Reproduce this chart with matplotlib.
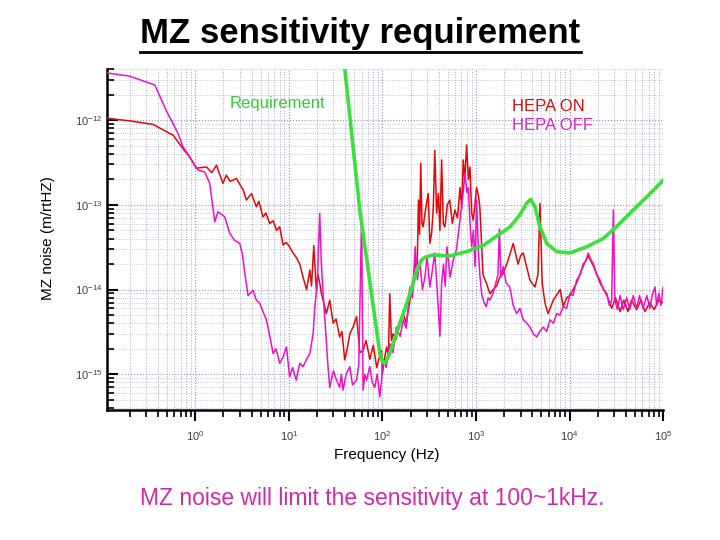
import matplotlib
matplotlib.use("Agg")
import matplotlib.pyplot as plt
from matplotlib.lines import Line2D
from matplotlib.ticker import NullFormatter

plt.rcParams['font.family'] = ['Liberation Sans', 'DejaVu Sans']

# HEPA ON (red)
freq_on = [0.115, 0.2, 0.354, 0.58, 0.74, 0.87, 1.03, 1.15, 1.32, 1.5, 1.69, 1.85, 1.98, 2.15,
           2.35, 2.54, 2.75, 2.99, 3.25, 3.53, 4.0, 4.5, 4.8, 5.3, 5.7, 6.25, 6.8, 7.4, 8.0, 8.7,
           9.4, 10.2, 11.1, 12.0, 13.1, 14.2, 15.5, 16.8, 17.5, 18.5, 19.7, 20.5, 21.4, 22.3,
           23.3, 25.2, 27.4, 29.8, 32, 35, 37, 39.6, 41.3, 44.9, 48.6, 53, 57.5, 62, 67, 73.5,
           80, 87, 93, 98, 100, 105, 111, 116, 120, 125, 130, 141, 150, 167, 180, 197, 210, 224,
           235, 243, 250, 257, 265, 273, 290, 309, 322, 336, 350, 363, 380, 396, 412, 430, 448,
           466, 495, 525, 560, 596, 635, 676, 705, 731, 760, 794, 830, 863, 900, 935, 975, 1016,
           1060, 1100, 1190, 1290, 1410, 1530, 1660, 1800, 1960, 2200, 2500, 2820, 3000, 3200,
           3500, 3780, 4270, 4600, 4830, 5100, 5470, 5900, 6700, 7950, 8560, 9300, 10100, 11900,
           14000, 15800, 18000, 21200, 25100, 28200, 31000, 34700, 38000, 42000, 46000, 52000,
           58000, 64000, 72000, 80000, 90000, 100000]
noise_on = [1.05e-12, 9.8e-13, 8.9e-13, 6.65e-13, 4.6e-13, 3.7e-13, 2.7e-13, 2.75e-13, 2.8e-13,
            2.4e-13, 2.94e-13, 2.2e-13, 1.8e-13, 2.24e-13, 1.9e-13, 1.95e-13, 2.05e-13, 1.75e-13,
            1.5e-13, 1.14e-13, 1.36e-13, 9.5e-14, 1.1e-13, 7.2e-14, 8.0e-14, 6.0e-14, 6.5e-14,
            5.0e-14, 5.5e-14, 3.35e-14, 3.6e-14, 3.2e-14, 2.7e-14, 2.4e-14, 2.0e-14, 1.4e-14,
            1.0e-14, 1.7e-14, 1.1e-14, 3.3e-14, 1.0e-14, 1.5e-14, 1.2e-14, 9.0e-15, 7.5e-15,
            5.2e-15, 7.5e-15, 4.0e-15, 4.5e-15, 2.75e-15, 3.2e-15, 1.48e-15, 1.8e-15, 3.0e-15,
            3.6e-15, 4.8e-15, 1.8e-15, 1.9e-15, 2.5e-15, 1.5e-15, 2.2e-15, 1.2e-15, 1.6e-15,
            1.9e-15, 1.0e-15, 1.5e-15, 2.1e-15, 1.7e-15, 8.9e-15, 2.5e-15, 3.0e-15, 2.6e-15,
            4.0e-15, 5.2e-15, 4.0e-15, 7.5e-15, 1.0e-14, 2.2e-14, 1.6e-14, 1.14e-13, 4.5e-14,
            3.1e-13, 6.0e-14, 5.5e-14, 9.0e-14, 1.36e-13, 3.5e-14, 4.6e-14, 9.0e-14, 4.4e-13,
            8.0e-14, 1.36e-13, 5.0e-14, 3.4e-13, 6.0e-14, 5.5e-14, 1.0e-13, 1.14e-13, 6.0e-14,
            8.7e-14, 7.0e-14, 1.6e-13, 9.0e-14, 3.4e-13, 2.0e-13, 5.07e-13, 2.0e-13, 2.8e-13,
            8.0e-14, 6.6e-14, 1.0e-13, 1.6e-13, 1.3e-13, 9.5e-14, 1.5e-14, 1.2e-14, 8.9e-15,
            1.0e-14, 1.1e-14, 1.4e-14, 1.55e-14, 2.2e-14, 3.5e-14, 2.0e-14, 2.5e-14, 2.7e-14,
            1.8e-14, 1.29e-14, 1.07e-14, 1.5e-14, 1.04e-13, 1.2e-14, 6.9e-15, 5.2e-15, 7.5e-15,
            1.0e-14, 6.3e-15, 8.0e-15, 8.5e-15, 1.2e-14, 1.9e-14, 2.5e-14, 1.9e-14, 1.2e-14,
            8.5e-15, 6.0e-15, 8.0e-15, 5.5e-15, 7.5e-15, 5.5e-15, 7.5e-15, 5.8e-15, 7.5e-15,
            5.5e-15, 7.0e-15, 5.8e-15, 7.5e-15, 7.0e-15]

# HEPA OFF (magenta)
freq_off = [0.115, 0.2, 0.37, 0.49, 0.655, 0.74, 0.87, 1.07, 1.26, 1.43, 1.62, 1.75, 2.07, 2.34,
            2.64, 2.99, 3.2, 3.38, 3.67, 4.15, 4.5, 4.9, 5.3, 5.77, 6.2, 6.8, 7.3, 8.0, 8.7, 9.45,
            10.2, 11, 12.0, 13.1, 14.2, 15.5, 16.8, 18.2, 19.0, 20.2, 21.4, 22.3, 23.3, 25.2,
            26.3, 27.4, 30, 32.4, 35, 36.5, 38, 41, 44.9, 48, 53, 56, 59.9, 62.3, 65, 67.7, 73.5,
            78, 83, 88, 94, 98, 102, 110, 120, 130, 141, 155, 167, 180, 197, 210, 224, 237, 251,
            268, 285, 300, 322, 340, 363, 385, 412, 430, 450, 470, 489, 530, 571, 620, 676, 720,
            763, 800, 830, 865, 900, 940, 977, 1016, 1060, 1100, 1150, 1220, 1290, 1350, 1410,
            1520, 1600, 1660, 1720, 1780, 1850, 1960, 2100, 2300, 2500, 2720, 2950, 3200, 3500,
            3780, 4100, 4460, 4800, 5250, 5700, 6170, 6700, 7300, 7900, 8560, 9300, 10100, 10900,
            11900, 13000, 14000, 15000, 15800, 16800, 18000, 19500, 21200, 23000, 25100, 26600,
            28200, 29400, 30500, 32500, 34700, 37500, 40800, 44000, 48000, 52000, 56000, 61000,
            67000, 72000, 77000, 82000, 85300, 90000, 95000, 100000]
noise_off = [3.6e-12, 3.3e-12, 2.6e-12, 1.3e-12, 7.0e-13, 4.85e-13, 3.7e-13, 2.57e-13, 2.45e-13,
             1.8e-13, 6.3e-14, 8.3e-14, 7.2e-14, 4.6e-14, 3.8e-14, 3.5e-14, 2.6e-14, 1.6e-14,
             8.5e-15, 9.8e-15, 7.5e-15, 6.9e-15, 5.5e-15, 4.4e-15, 3.0e-15, 1.76e-15, 2.0e-15,
             1.35e-15, 1.6e-15, 2.1e-15, 9.3e-16, 1.2e-15, 8.5e-16, 1.35e-15, 1.23e-15, 1.5e-15,
             1.77e-15, 3.0e-15, 6.3e-15, 1.2e-14, 7.9e-14, 2.0e-14, 8.9e-15, 2.5e-15, 1.2e-15,
             7.0e-16, 1.1e-15, 8.5e-16, 7.0e-16, 1.0e-15, 6.5e-16, 1.0e-15, 1.23e-15, 7.5e-16,
             8.5e-16, 1.3e-15, 6.6e-14, 6.5e-16, 1.0e-15, 8.5e-16, 1.23e-15, 8.0e-16, 7.0e-16,
             1.0e-15, 5.4e-16, 8.5e-16, 1.48e-15, 1.2e-15, 2.3e-15, 1.8e-15, 3.6e-15, 2.8e-15,
             4.4e-15, 3.5e-15, 1.07e-14, 8.0e-15, 3.2e-14, 1.3e-14, 2.2e-14, 1.0e-14, 1.4e-14,
             2.5e-14, 1.07e-14, 1.6e-14, 2.7e-14, 1.0e-14, 2.8e-15, 1.2e-14, 2.0e-14, 1.1e-14,
             3.2e-14, 1.4e-14, 2.2e-14, 3.0e-14, 6.6e-14, 1.2e-13, 2.35e-13, 1.4e-13, 1.6e-13,
             6.0e-14, 3.2e-14, 5.0e-14, 1.86e-14, 1.14e-13, 3.0e-14, 1.5e-14, 8.9e-15, 7.0e-15,
             6.3e-15, 8.0e-15, 7.5e-15, 8.9e-15, 1.1e-14, 1.29e-14, 1.5e-14, 5.2e-14, 1.4e-14,
             1.86e-14, 1.2e-14, 1.07e-14, 6.5e-15, 5.2e-15, 6.0e-15, 4.4e-15, 4.0e-15, 3.6e-15,
             3.0e-15, 2.75e-15, 3.2e-15, 3.6e-15, 3.2e-15, 4.4e-15, 4.0e-15, 5.2e-15, 5.0e-15,
             6.3e-15, 6.0e-15, 8.9e-15, 8.5e-15, 1.29e-14, 1.5e-14, 2.0e-14, 2.2e-14, 2.7e-14,
             2.3e-14, 2.0e-14, 1.5e-14, 1.29e-14, 1.0e-14, 8.9e-15, 6.5e-15, 7.5e-15, 8.7e-14,
             7.5e-15, 5.8e-15, 8.5e-15, 5.8e-15, 8.0e-15, 5.8e-15, 8.5e-15, 6.0e-15, 8.5e-15,
             6.0e-15, 8.5e-15, 6.0e-15, 8.8e-15, 1.07e-14, 6.5e-15, 9.0e-15, 6.5e-15, 1.07e-14]

# Requirement (green)
freq_req = [37, 39.7, 57.4, 94, 100, 106, 112, 120, 154, 197, 241, 265, 285, 349, 525, 794,
            1190, 1530, 2310, 2950, 3470, 3850, 4270, 4830, 5700, 7300, 10100, 15300, 22900,
            31600, 47900, 72700, 100000]
noise_req = [7.7e-12, 4.0e-12, 8.7e-14, 1.76e-15, 1.4e-15, 1.35e-15, 1.5e-15, 1.76e-15, 4.0e-15,
             8.9e-15, 1.86e-14, 2.25e-14, 2.4e-14, 2.56e-14, 2.5e-14, 2.8e-14, 3.3e-14, 4.0e-14,
             5.5e-14, 7.6e-14, 1.04e-13, 1.16e-13, 9.5e-14, 5.5e-14, 3.5e-14, 2.8e-14, 2.7e-14,
             3.2e-14, 4.0e-14, 5.5e-14, 8.7e-14, 1.36e-13, 1.95e-13]

x_major = [1e0, 1e1, 1e2, 1e3, 1e4, 1e5]
y_major = [1e-15, 1e-14, 1e-13, 1e-12]


def main():
    fig = plt.figure(figsize=(7.2, 5.4), dpi=100)
    ax = fig.add_axes([0.149, 0.241, 0.772, 0.631])

    ax.plot(freq_on, noise_on, color="#E00808", lw=1.1, zorder=3)
    ax.plot(freq_off, noise_off, color="#EE10C8", lw=1.1, zorder=4)
    ax.plot(freq_req, noise_req, color="#3BE03B", lw=2.6, zorder=5)

    ax.set_xscale("log")
    ax.set_yscale("log")
    ax.set_xticks(x_major)
    ax.set_yticks(y_major)
    ax.set_xlim(0.115, 1e5)
    ax.set_ylim(3.8e-16, 4.0e-12)
    ax.xaxis.set_minor_formatter(NullFormatter())
    ax.yaxis.set_minor_formatter(NullFormatter())

    # dotted grid, horizontal lines a bit lighter than the vertical ones
    ax.grid(True, which="major", color="#9090BC", linestyle=":", lw=0.8)
    ax.xaxis.grid(True, which="minor", color="#A8A8CC", linestyle=":", lw=0.7)
    ax.yaxis.grid(True, which="minor", color="#B4B4D4", linestyle=":", lw=0.6)
    for s in ["top", "right"]:
        ax.spines[s].set_visible(False)
    for s in ["left", "bottom"]:
        ax.spines[s].set_linewidth(1.8)

    ax.tick_params(axis="y", which="both", direction="in", labelsize=8, labelcolor="#404040")
    ax.tick_params(axis="y", which="major", length=8, width=1.5)
    ax.tick_params(axis="y", which="minor", length=5, width=1.2)
    ax.tick_params(axis="x", which="both", direction="out", labelsize=8, labelcolor="#404040")
    ax.tick_params(axis="x", which="major", length=8, width=1.5, pad=6)
    ax.tick_params(axis="x", which="minor", length=5, width=1.2)

    ax.set_xlabel("Frequency (Hz)", fontsize=11)
    ax.xaxis.label.set_va("center")
    ax.xaxis.set_label_coords(0.502, -0.132)
    ax.set_ylabel("MZ noise (m/rtHZ)", fontsize=11)
    ax.yaxis.label.set_va("center")
    ax.yaxis.set_label_coords(-0.106, 0.504)

    ax.text(0.221, 0.900, "Requirement", color="#33CC33", fontsize=12,
            va="center", ha="left", transform=ax.transAxes)
    ax.text(0.728, 0.891, "HEPA ON", color="#D01010", fontsize=12,
            va="center", ha="left", transform=ax.transAxes)
    ax.text(0.728, 0.836, "HEPA OFF", color="#DD22CC", fontsize=12,
            va="center", ha="left", transform=ax.transAxes)

    title = fig.text(0.5007, 0.920, "MZ sensitivity requirement", fontsize=25,
                     fontweight="bold", ha="center", va="baseline")
    fig.text(0.517, 0.065, "MZ noise will limit the sensitivity at 100~1kHz.",
             color="#D02AA8", fontsize=16.5, ha="center", va="baseline")

    fig.canvas.draw()
    bb = title.get_window_extent().transformed(fig.transFigure.inverted())
    fig.add_artist(Line2D([bb.x0, bb.x1], [0.9035, 0.9035], color="black", lw=2.0,
                          transform=fig.transFigure))

    fig.savefig("out.png", dpi=100)


if __name__ == "__main__":
    main()
